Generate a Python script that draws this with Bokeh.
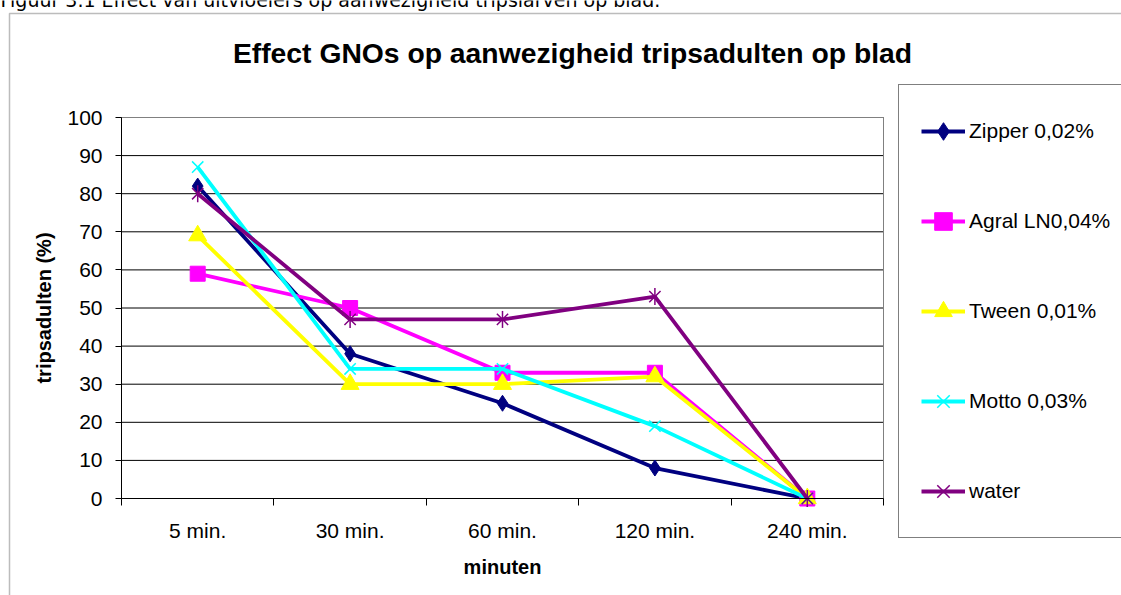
from bokeh.plotting import figure
from bokeh.models import (Range1d, FixedTicker, Legend, LegendItem, Label, PolyAnnotation, LinearAxis)
from bokeh.embed import file_html
from bokeh.resources import INLINE

# ---- data ----
categories = ["5 min.", "30 min.", "60 min.", "120 min.", "240 min."]
zipper = [82, 38, 25, 8, 0]
agral = [59, 50, 33, 33, 0]
tween = [69, 30, 30, 32, 0]
motto = [87, 34, 34, 19, 0]
water = [80, 47, 47, 53, 0]
series_names = ["Zipper 0,02%", "Agral LN0,04%", "Tween 0,01%", "Motto 0,03%", "water"]
y_ticks = [0, 10, 20, 30, 40, 50, 60, 70, 80, 90, 100]
title_text = "Effect GNOs op aanwezigheid tripsadulten op blad"
caption_text = "Figuur 3.1 Effect van uitvloeiers op aanwezigheid tripslarven op blad."
x_title = "minuten"
y_title = "tripsadulten (%)"

FONT = "Liberation Sans"
W, H = 1121, 595
FL, FR, FT, FB = 121, 883, 117, 498  # plot-area edges in page pixels

x = list(range(1, len(categories) + 1))
x_lo, x_hi = 0.5, len(categories) + 0.5
y_lo, y_hi = y_ticks[0], y_ticks[-1]

# ranges chosen so the plot area lands on the pixels above while the frame fills the canvas
kx = (FR - FL) / (x_hi - x_lo)
ky = (FB - FT) / (y_hi - y_lo)
x_range = Range1d(x_lo - FL / kx, x_lo + (W - FL) / kx)
y_range = Range1d(y_lo - (H - FB) / ky, y_hi + FT / ky)

p = figure(width=W, height=H, output_backend="svg", toolbar_location=None,
           x_range=x_range, y_range=y_range, x_axis_type=None, y_axis_type=None,
           min_border=0, background_fill_color="white", border_fill_color="white")
p.outline_line_color = None
p.grid.visible = False

# outer chart border (right and bottom edges lie outside the picture)
p.add_layout(PolyAnnotation(xs=[9, W + 60, W + 60, 9], ys=[H - 13, H - 13, -60, -60],
                            xs_units="screen", ys_units="screen",
                            fill_alpha=0, line_color="#222222", line_width=1.5, level="underlay"))

# horizontal gridlines and plot-area border
p.segment(x0=x_lo, x1=x_hi, y0=y_ticks, y1=y_ticks, line_color="black", line_width=1)
p.line([x_lo, x_hi, x_hi], [y_hi, y_hi, y_lo], line_color="#808080", line_width=1)

# y axis
ya = LinearAxis(fixed_location=x_lo, bounds=(y_lo, y_hi))
ya.ticker = FixedTicker(ticks=y_ticks)
ya.minor_tick_line_color = None
ya.major_tick_in = 0
ya.major_tick_out = 6
ya.major_tick_line_color = "black"
ya.axis_line_color = "black"
ya.major_label_text_font = FONT
ya.major_label_text_font_size = "21px"
ya.major_label_text_color = "black"
ya.major_label_standoff = 13
ya.axis_label = y_title
ya.axis_label_text_font = FONT
ya.axis_label_text_font_size = "20px"
ya.axis_label_text_font_style = "bold"
ya.axis_label_text_color = "black"
ya.axis_label_standoff = 9
p.add_layout(ya, "left")

# x axis
xa = LinearAxis(fixed_location=y_lo, bounds=(x_lo, x_hi))
xa.ticker = FixedTicker(ticks=x, minor_ticks=[v + 0.5 for v in range(len(categories) + 1)])
xa.major_label_overrides = {v: c for v, c in zip(x, categories)}
xa.major_tick_line_color = None
xa.major_tick_in = 0
xa.major_tick_out = 0
xa.minor_tick_in = 0
xa.minor_tick_out = 7
xa.minor_tick_line_color = "black"
xa.axis_line_color = "black"
xa.major_label_text_font = FONT
xa.major_label_text_font_size = "21px"
xa.major_label_text_color = "black"
xa.major_label_standoff = 13
xa.axis_label = x_title
xa.axis_label_text_font = FONT
xa.axis_label_text_font_size = "20px"
xa.axis_label_text_font_style = "bold"
xa.axis_label_text_color = "black"
xa.axis_label_standoff = 11
p.add_layout(xa, "below")

LW = 3.8
items = []

def add_series(vals, color, name, markers):
    rends = [p.line(x, vals, line_color=color, line_width=LW)]
    for m in markers:
        rends.append(p.scatter(x, vals, **m))
    items.append(LegendItem(label=name, renderers=rends))

add_series(zipper, "#000080", series_names[0],
           [dict(marker="diamond", size=16, fill_color="#000080", line_color="#000080")])
add_series(agral, "#FF00FF", series_names[1],
           [dict(marker="square", size=15, fill_color="#FF00FF", line_color="#FF00FF")])
add_series(tween, "#FFFF00", series_names[2],
           [dict(marker="triangle", size=18, fill_color="#FFFF00", line_color="#FFFF00")])
add_series(motto, "#00FFFF", series_names[3],
           [dict(marker="x", size=16, line_color="#00FFFF", line_width=1.5)])
add_series(water, "#800080", series_names[4],
           [dict(marker="x", size=16, line_color="#800080", line_width=1.5),
            dict(marker="dash", size=17, angle=1.570796, line_color="#800080", line_width=1.5)])

legend = Legend(items=items, location=(898, H - 538),
                glyph_width=44, glyph_height=48, label_height=48, label_width=300,
                spacing=42, padding=22, label_standoff=4, margin=0,
                label_text_font=FONT, label_text_font_size="21px", label_text_color="black",
                border_line_color="black", border_line_width=1,
                background_fill_color="white", background_fill_alpha=1)
p.add_layout(legend, "center")

p.add_layout(Label(x=572, y=H - 52, x_units="screen", y_units="screen",
                   text=title_text, text_font=FONT, text_font_size="28.3px",
                   text_font_style="bold", text_align="center", text_baseline="middle",
                   text_color="black"))
# caption line of the surrounding document, only its lower part is inside the picture
p.add_layout(Label(x=0, y=H + 1, x_units="screen", y_units="screen",
                   text=caption_text, text_font="DejaVu Sans", text_font_size="19px",
                   text_align="left", text_baseline="alphabetic", text_color="black"))

open("out.html", "w").write(file_html(p, INLINE))
